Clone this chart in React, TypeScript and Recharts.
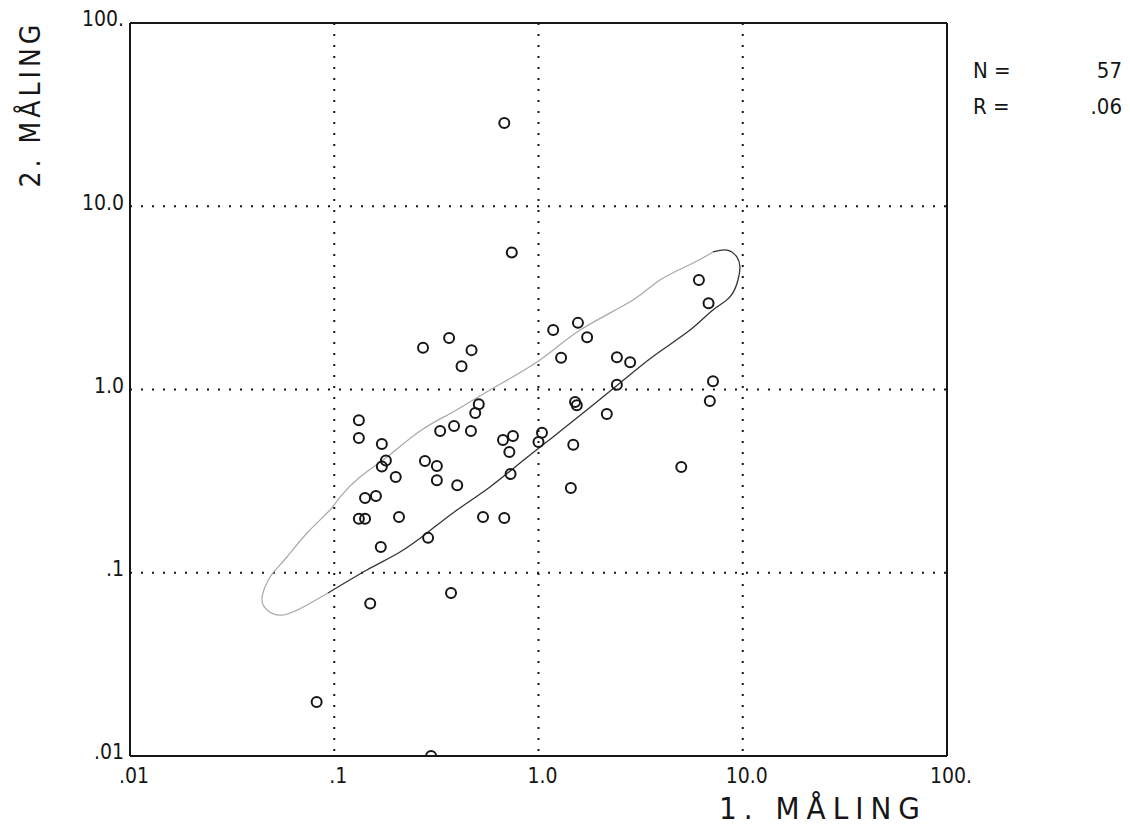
import React from "react";
import {
  ScatterChart,
  Scatter,
  XAxis,
  YAxis,
  CartesianGrid,
  ReferenceLine,
} from "recharts";

// Axis ticks
const tickValues = [0.01, 0.1, 1, 10, 100];
const xTickLabels = [".01", ".1", "1.0", "10.0", "100."];
const yTickLabels = [".01", ".1", "1.0", "10.0", "100."];

// Measurements (1. måling, 2. måling)
const maaling1 = [
  0.68, 0.74, 6.1, 6.8, 7.15, 6.9, 5.0, 1.56, 1.18, 1.73, 1.29, 2.42, 2.81, 2.42,
  1.51, 1.54, 2.16, 0.75, 0.67, 1.04, 1.0, 1.48, 0.72, 0.73, 1.44, 0.68, 0.272,
  0.365, 0.47, 0.42, 0.51, 0.49, 0.33, 0.386, 0.467, 0.132, 0.132, 0.171, 0.179,
  0.171, 0.2, 0.278, 0.318, 0.318, 0.4, 0.1415, 0.16, 0.132, 0.1415, 0.2075,
  0.535, 0.288, 0.169, 0.373, 0.15, 0.082, 0.298,
];
const maaling2 = [
  28.5, 5.6, 3.96, 2.96, 1.11, 0.865, 0.378, 2.31, 2.11, 1.93, 1.49, 1.5, 1.41,
  1.06, 0.855, 0.82, 0.735, 0.557, 0.53, 0.58, 0.517, 0.5, 0.456, 0.346, 0.29,
  0.199, 1.69, 1.91, 1.64, 1.34, 0.83, 0.745, 0.594, 0.632, 0.594, 0.68, 0.543,
  0.504, 0.41, 0.38, 0.333, 0.407, 0.382, 0.32, 0.3, 0.256, 0.262, 0.197, 0.197,
  0.2015, 0.2015, 0.155, 0.138, 0.0775, 0.068, 0.0197, 0.01,
];

// Confidence ellipse (upper, faint part)
const ellipseUpperX = [
  7.15, 5.71, 3.93, 2.9, 1.6, 1.017, 0.579, 0.3815, 0.263, 0.1813, 0.1337,
  0.1067, 0.0953, 0.0736, 0.0587, 0.0501, 0.0458, 0.0443, 0.0469, 0.0561,
  0.0736, 0.0932,
];
const ellipseUpperY = [
  5.63, 4.9, 3.96, 3.08, 2.11, 1.45, 0.994, 0.754, 0.594, 0.428, 0.333, 0.259,
  0.22, 0.1648, 0.1219, 0.0997, 0.0836, 0.071, 0.0626, 0.0588, 0.0667, 0.0775,
];
// lower, darker part
const ellipseLowerX = [
  0.0932, 0.1446, 0.2099, 0.2844, 0.399, 0.579, 0.812, 1.178, 1.652, 2.506, 3.72,
  5.52, 7.15, 8.66, 9.48, 9.69, 9.37, 8.37, 7.15,
];
const ellipseLowerY = [
  0.0775, 0.1035, 0.1298, 0.1648, 0.22, 0.294, 0.397, 0.551, 0.744, 1.085, 1.543,
  2.11, 2.716, 3.2, 3.96, 4.66, 5.28, 5.77, 5.63,
];

const statN = "57";
const statR = ".06";

const points = maaling1.map((x, i) => ({ x, y: maaling2[i] }));
const upper = ellipseUpperX.map((x, i) => ({ x, y: ellipseUpperY[i] }));
const lower = ellipseLowerX.map((x, i) => ({ x, y: ellipseLowerY[i] }));

const FONT = "'DejaVu Sans Condensed', 'Liberation Sans Narrow', 'DejaVu Sans', sans-serif";
const INK = "#161616";

const CircleShape = (props: any) => {
  const { cx, cy } = props;
  if (cx == null || cy == null) return <g />;
  return <circle cx={cx} cy={cy} r={5} fill="none" stroke={INK} strokeWidth={2} />;
};
const NoShape = () => <g />;

const labelOf = (labels: string[], v: number) => {
  const i = tickValues.indexOf(v);
  return i >= 0 ? labels[i] : "";
};

const XTick = (props: any) => {
  const { x, y, payload } = props;
  return (
    <text x={x + 4} y={y + 10} dy="0.71em" textAnchor="middle" fontSize={21} fill={INK} fontFamily={FONT}>
      {labelOf(xTickLabels, payload.value)}
    </text>
  );
};
const YTick = (props: any) => {
  const { x, y, payload } = props;
  return (
    <text x={x - 4} y={y - 4} dy="0.355em" textAnchor="end" fontSize={21} fill={INK} fontFamily={FONT}>
      {labelOf(yTickLabels, payload.value)}
    </text>
  );
};

const W = 1114;
const H = 813;

export default function App() {
  return (
    <div style={{ position: "relative", width: W, height: H, background: "#fff", fontFamily: FONT }}>
      <ScatterChart
        width={W}
        height={H}
        margin={{ top: 15, right: 175, bottom: 35, left: 62 }}
      >
        <CartesianGrid
          stroke={INK}
          strokeWidth={2}
          strokeDasharray="2 9"
          horizontalValues={tickValues}
          verticalValues={tickValues}
        />
        <XAxis
          type="number"
          dataKey="x"
          scale="log"
          domain={[0.01, 100]}
          allowDataOverflow
          ticks={tickValues}
          interval={0}
          tickLine={false}
          axisLine={false}
          tickSize={0}
          height={30}
          tick={<XTick />}
        />
        <YAxis
          type="number"
          dataKey="y"
          scale="log"
          domain={[0.01, 100]}
          allowDataOverflow
          ticks={tickValues}
          interval={0}
          tickLine={false}
          axisLine={false}
          tickSize={0}
          width={60}
          tick={<YTick />}
        />
        <ReferenceLine x={0.01} stroke={INK} strokeWidth={2} ifOverflow="visible" />
        <ReferenceLine x={100} stroke={INK} strokeWidth={2} ifOverflow="visible" />
        <ReferenceLine y={0.01} stroke={INK} strokeWidth={2} ifOverflow="visible" />
        <ReferenceLine y={100} stroke={INK} strokeWidth={2} ifOverflow="visible" />
        <Scatter
          data={upper}
          shape={NoShape}
          line={{ stroke: "#a8a8a8", strokeWidth: 1.2 }}
          lineType="joint"
          lineJointType="natural"
          isAnimationActive={false}
        />
        <Scatter
          data={lower}
          shape={NoShape}
          line={{ stroke: "#333", strokeWidth: 1.3 }}
          lineType="joint"
          lineJointType="natural"
          isAnimationActive={false}
        />
        <Scatter data={points} shape={CircleShape} isAnimationActive={false} />
      </ScatterChart>

      <div
        style={{
          position: "absolute",
          left: 23,
          top: 96,
          transform: "translate(-50%, -50%) rotate(-90deg)",
          whiteSpace: "nowrap",
          fontSize: 28,
          letterSpacing: 4,
          lineHeight: 1,
          color: INK,
        }}
      >
        2. MÅLING
      </div>
      <div
        style={{
          position: "absolute",
          left: 815,
          top: 800,
          transform: "translate(-50%, -50%)",
          whiteSpace: "nowrap",
          fontSize: 31,
          letterSpacing: 7,
          lineHeight: 1,
          color: INK,
        }}
      >
        1. MÅLING
      </div>
      <div style={{ position: "absolute", left: 965, top: 45, width: 149, fontSize: 22, color: INK, lineHeight: "36px" }}>
        <div style={{ display: "flex", justifyContent: "space-between" }}>
          <span>N =</span>
          <span>{statN}</span>
        </div>
        <div style={{ display: "flex", justifyContent: "space-between" }}>
          <span>R =</span>
          <span>{statR}</span>
        </div>
      </div>
    </div>
  );
}
